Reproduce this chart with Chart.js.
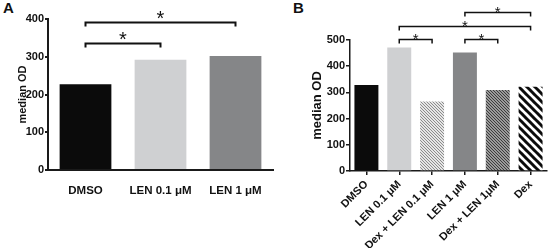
<!DOCTYPE html>
<html>
<head>
<meta charset="utf-8">
<script src="https://cdn.jsdelivr.net/npm/chart.js@4.4.1/dist/chart.umd.min.js"></script>
<style>
  body { margin: 0; background: #fff; }
  #wrap { position: relative; width: 550px; height: 248px; font-family: "Liberation Sans", Arial, sans-serif; }
  canvas { position: absolute; top: 0; }
  .panel { position: absolute; font-weight: bold; font-size: 15px; color: #111; }
</style>
</head>
<body>
<div id="wrap">
  <div class="panel" style="left:3px; top:-1px;">A</div>
  <div class="panel" style="left:293px; top:-1px;">B</div>
  <canvas id="chartA" width="280" height="248" style="left:0"></canvas>
  <canvas id="chartB" width="270" height="248" style="left:280px"></canvas>
</div>
<script>
// Données panneau A
const labelsA = ["DMSO", "LEN 0.1 μM", "LEN 1 μM"];
const valuesA = [227, 292, 302];
const ticksA = [0, 100, 200, 300, 400];
// [de, à, hauteur]
const bracketsA = [[0, 2, 391], [0, 1, 336]];

// Données panneau B
const labelsB = ["DMSO", "LEN 0.1 μM", "Dex + LEN 0.1 μM", "LEN 1 μM", "Dex + LEN 1μM", "Dex"];
const valuesB = [328, 471, 265, 452, 309, 322];
const ticksB = [0, 100, 200, 300, 400, 500];
const bracketsB = [[3, 5, 606], [1, 5, 553], [1, 2, 505], [3, 4, 505]];

const FONT = "'Liberation Sans', Arial, sans-serif";
const AXIS = "#1a1a1a";

// Motif hachuré "\\\"
const makeHatch = (size, bg, fg, lw) => {
  const c = document.createElement("canvas");
  c.width = size;
  c.height = size;
  const g = c.getContext("2d");
  g.fillStyle = bg;
  g.fillRect(0, 0, size, size);
  g.strokeStyle = fg;
  g.lineWidth = lw;
  for (let k = -1; k <= 1; k++) {
    g.beginPath();
    g.moveTo(k * size - 1, -1);
    g.lineTo(k * size + size + 1, size + 1);
    g.stroke();
  }
  return g.createPattern(c, "repeat");
};

// Crochets de significativité
const bracketPlugin = {
  id: "brackets",
  afterDatasetsDraw(chart, args, opts) {
    const { ctx, scales: { x, y } } = chart;
    ctx.save();
    ctx.strokeStyle = "#111";
    ctx.fillStyle = "#111";
    ctx.lineWidth = opts.lineWidth;
    ctx.font = opts.font;
    ctx.textAlign = "center";
    ctx.textBaseline = "alphabetic";
    opts.items.forEach(([from, to, value]) => {
      const x1 = x.getPixelForValue(from);
      const x2 = x.getPixelForValue(to);
      const yy = Math.round(y.getPixelForValue(value)) + 0.5;
      ctx.beginPath();
      ctx.moveTo(x1, yy + opts.drop);
      ctx.lineTo(x1, yy);
      ctx.lineTo(x2, yy);
      ctx.lineTo(x2, yy + opts.drop);
      ctx.stroke();
      ctx.fillText("*", (x1 + x2) / 2, yy + opts.starOffset);
    });
    ctx.restore();
  },
};

const tickValues = (list) => (scale) => {
  scale.ticks = list.map((v) => ({ value: v }));
};

new Chart(document.getElementById("chartA"), {
  type: "bar",
  data: {
    labels: labelsA,
    datasets: [
      {
        data: valuesA,
        backgroundColor: ["#0b0b0b", "#cfd0d2", "#858688"],
        borderWidth: 0,
        categoryPercentage: 1,
        barPercentage: 0.69,
      },
    ],
  },
  options: {
    responsive: false,
    animation: false,
    layout: { padding: { top: 19, right: 7, left: 0, bottom: 0 } },
    plugins: {
      legend: { display: false },
      tooltip: { enabled: false },
      brackets: { items: bracketsA, lineWidth: 2, drop: 4, font: "20px " + FONT, starOffset: 2 },
    },
    scales: {
      x: {
        grid: { display: false },
        border: { display: true, color: AXIS, width: 2 },
        ticks: { color: "#111", font: { family: FONT, size: 11.5, weight: "bold" }, padding: 6, maxRotation: 0 },
        afterFit: (s) => { s.height = 78; },
      },
      y: {
        min: 0,
        max: 400,
        afterBuildTicks: tickValues(ticksA),
        grid: { display: true, drawOnChartArea: false, drawTicks: true, tickLength: 3, color: AXIS, lineWidth: 2 },
        border: { display: true, color: AXIS, width: 2 },
        ticks: { color: "#111", font: { family: FONT, size: 11, weight: "bold" }, padding: 1 },
        title: { display: true, text: "median OD", color: "#111", font: { family: FONT, size: 11, weight: "bold" }, padding: { top: 16, bottom: 0 } },
        afterFit: (s) => { s.width = 48; },
      },
    },
  },
  plugins: [bracketPlugin],
});

const hatchLight = makeHatch(3, "#e6e6e6", "#8c8c8c", 1);
const hatchDark = makeHatch(3, "#9a9a9a", "#3c3c3c", 1);
const hatchBold = makeHatch(8, "#ffffff", "#0b0b0b", 3);

new Chart(document.getElementById("chartB"), {
  type: "bar",
  data: {
    labels: labelsB,
    datasets: [
      {
        data: valuesB,
        backgroundColor: ["#0b0b0b", "#cfd0d2", hatchLight, "#858688", hatchDark, hatchBold],
        borderWidth: 0,
        categoryPercentage: 1,
        barPercentage: 0.73,
      },
    ],
  },
  options: {
    responsive: false,
    animation: false,
    layout: { padding: { top: 40, right: 3, left: 0, bottom: 0 } },
    plugins: {
      legend: { display: false },
      tooltip: { enabled: false },
      brackets: { items: bracketsB, lineWidth: 1.5, drop: 4, font: "15px " + FONT, starOffset: 4 },
    },
    scales: {
      x: {
        grid: { display: true, drawOnChartArea: false, drawTicks: true, tickLength: 4, color: AXIS, lineWidth: 1.5, offset: false },
        border: { display: true, color: AXIS, width: 1.5 },
        ticks: { color: "#111", font: { family: FONT, size: 11, weight: "bold" }, padding: 3, minRotation: 45, maxRotation: 45 },
        afterFit: (s) => { s.height = 77; },
      },
      y: {
        min: 0,
        max: 500,
        afterBuildTicks: tickValues(ticksB),
        grid: { display: true, drawOnChartArea: false, drawTicks: true, tickLength: 4, color: AXIS, lineWidth: 1.5 },
        border: { display: true, color: AXIS, width: 1.5 },
        ticks: { color: "#111", font: { family: FONT, size: 11, weight: "bold" }, padding: 1 },
        title: { display: true, text: "median OD", color: "#111", font: { family: FONT, size: 13, weight: "bold" }, padding: { top: 30, bottom: 0 } },
        afterFit: (s) => { s.width = 70; },
      },
    },
  },
  plugins: [bracketPlugin],
});
</script>
</body>
</html>
